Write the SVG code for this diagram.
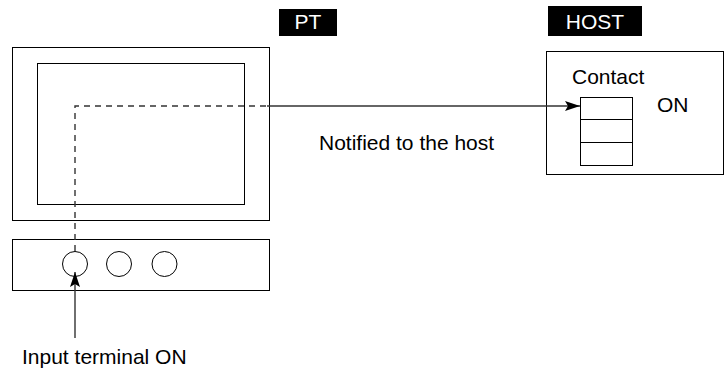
<svg xmlns="http://www.w3.org/2000/svg" width="726" height="379" viewBox="0 0 726 379">
<style>
.box{fill:#fff;stroke:#000;stroke-width:1}
.lbl{fill:#000}
.t{font-family:"Liberation Sans",Arial,sans-serif;font-size:21px;fill:#000}
.tw{font-family:"Liberation Sans",Arial,sans-serif;font-size:21px;fill:#fff}
.conn{fill:none;stroke:#333;stroke-width:1.4}
.dash{stroke-dasharray:6,5}
</style>
<defs>
<marker id="ah" viewBox="0 0 15 10" refX="15" refY="5" markerWidth="15" markerHeight="10" markerUnits="userSpaceOnUse" orient="auto">
<path d="M0,0 L15,5 L0,10 L3,5 Z" fill="#000"/>
</marker>
</defs>
<rect width="726" height="379" fill="#fff"/>
<g id="pt-label">
<rect class="lbl" x="279" y="9" width="58" height="27"/>
<text class="tw" x="308" y="29" text-anchor="middle">PT</text>
</g>
<g id="host-label">
<rect class="lbl" x="548" y="6" width="94" height="30"/>
<text class="tw" x="595" y="29" text-anchor="middle">HOST</text>
</g>
<g id="pt-monitor">
<rect class="box" x="12.5" y="47.5" width="257" height="173"/>
<rect class="box" x="37.5" y="63.5" width="207" height="141"/>
</g>
<g id="pt-panel">
<rect class="box" x="12.5" y="239.5" width="257" height="51"/>
<circle class="box" cx="75" cy="264" r="12.5"/>
<circle class="box" cx="119" cy="264" r="12.5"/>
<circle class="box" cx="164.5" cy="264" r="12.5"/>
</g>
<g id="host">
<rect class="box" x="546.5" y="51.5" width="177" height="123"/>
<text class="t" x="572" y="84">Contact</text>
<rect class="box" x="580.5" y="97.5" width="52" height="22"/>
<rect class="box" x="580.5" y="119.5" width="52" height="23"/>
<rect class="box" x="580.5" y="142.5" width="52" height="23"/>
<text class="t" x="657" y="112">ON</text>
</g>
<g id="connectors">
<path class="conn dash" d="M75,251 V106 H267"/>
<path class="conn" d="M267,106 H580" marker-end="url(#ah)"/>
<path class="conn" d="M75,338 V272" marker-end="url(#ah)"/>
</g>
<text class="t" x="319" y="150">Notified to the host</text>
<text class="t" x="22" y="364">Input terminal ON</text>
</svg>
